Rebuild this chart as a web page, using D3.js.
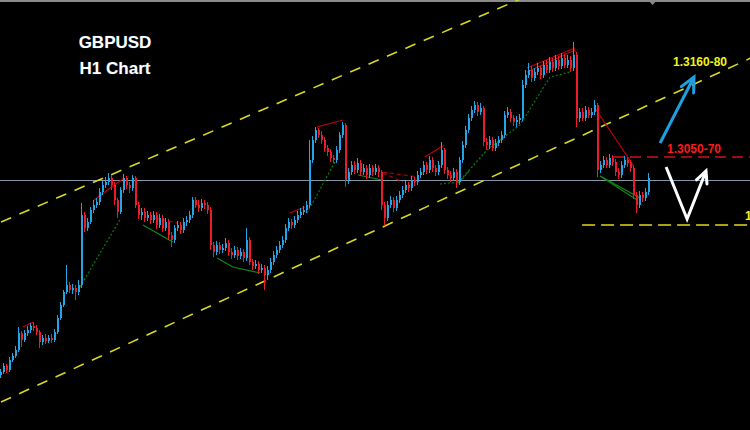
<!DOCTYPE html>
<html>
<head>
<meta charset="utf-8">
<script src="https://cdn.jsdelivr.net/npm/d3@7"></script>
<style>
  html, body { margin: 0; padding: 0; background: #000; }
  svg { display: block; }
</style>
</head>
<body>
<svg id="chart"></svg>
<script>
//DATA
//H1 candles, one per bar index. Open of each bar is the close of the bar before it.
var firstOpen = 1.2855;

var closes = [
  1.2858, 1.2864, 1.2860, 1.2870, 1.2874, 1.2880, 1.2897, 1.2890, 1.2897, 1.2900,
  1.2904, 1.2902, 1.2898, 1.2888, 1.2892, 1.2889, 1.2892, 1.2890, 1.2898, 1.2912,
  1.2925, 1.2938, 1.2945, 1.2940, 1.2942, 1.2938, 1.2945, 1.3015, 1.3002, 1.3008,
  1.3020, 1.3025, 1.3028, 1.3038, 1.3045, 1.3048, 1.3052, 1.3045, 1.3030, 1.3018,
  1.3040, 1.3052, 1.3045, 1.3042, 1.3052, 1.3025, 1.3015, 1.3018, 1.3012, 1.3015,
  1.3010, 1.3015, 1.3005, 1.3012, 1.3002, 1.3008, 1.2995, 1.2990, 1.3002, 1.3005,
  1.3000, 1.3008, 1.3010, 1.3015, 1.3030, 1.3025, 1.3022, 1.3027, 1.3025, 1.3020,
  1.2985, 1.2978, 1.2985, 1.2980, 1.2982, 1.2987, 1.2978, 1.2975, 1.2980, 1.2974,
  1.2978, 1.2972, 1.2990, 1.2968, 1.2964, 1.2966, 1.2960, 1.2962, 1.2955, 1.2960,
  1.2968, 1.2975, 1.2980, 1.2985, 1.2990, 1.3002, 1.3008, 1.3005, 1.3010, 1.3015,
  1.3018, 1.3020, 1.3025, 1.3070, 1.3090, 1.3100, 1.3095, 1.3090, 1.3082, 1.3078,
  1.3072, 1.3070, 1.3080, 1.3095, 1.3105, 1.3050, 1.3058, 1.3065, 1.3060, 1.3067,
  1.3058, 1.3062, 1.3055, 1.3062, 1.3058, 1.3062, 1.3058, 1.3025, 1.3012, 1.3025,
  1.3030, 1.3022, 1.3030, 1.3035, 1.3040, 1.3045, 1.3042, 1.3050, 1.3048, 1.3055,
  1.3058, 1.3065, 1.3060, 1.3070, 1.3062, 1.3058, 1.3065, 1.3080, 1.3060, 1.3055,
  1.3052, 1.3058, 1.3048, 1.3070, 1.3085, 1.3100, 1.3112, 1.3120, 1.3125, 1.3118,
  1.3122, 1.3088, 1.3085, 1.3090, 1.3082, 1.3087, 1.3090, 1.3095, 1.3115, 1.3118,
  1.3112, 1.3108, 1.3110, 1.3112, 1.3145, 1.3155, 1.3160, 1.3152, 1.3158, 1.3162,
  1.3155, 1.3165, 1.3160, 1.3168, 1.3162, 1.3170, 1.3164, 1.3172, 1.3165, 1.3170,
  1.3162, 1.3175, 1.3112, 1.3118, 1.3112, 1.3120, 1.3115, 1.3118, 1.3125, 1.3060,
  1.3065, 1.3070, 1.3065, 1.3072, 1.3068, 1.3058, 1.3055, 1.3065, 1.3070, 1.3067,
  1.3062, 1.3035, 1.3025, 1.3035, 1.3032, 1.3038, 1.3052
];

var highs = [
  1.2861, 1.2867, 1.2866, 1.2873, 1.2877, 1.2884, 1.2903, 1.2899, 1.2900, 1.2904,
  1.2907, 1.2908, 1.2905, 1.2900, 1.2895, 1.2896, 1.2895, 1.2896, 1.2901, 1.2915,
  1.2928, 1.2940, 1.2965, 1.2948, 1.2946, 1.2945, 1.2950, 1.3027, 1.3018, 1.3012,
  1.3023, 1.3030, 1.3032, 1.3042, 1.3049, 1.3053, 1.3057, 1.3055, 1.3048, 1.3032,
  1.3043, 1.3056, 1.3054, 1.3048, 1.3055, 1.3054, 1.3028, 1.3022, 1.3022, 1.3019,
  1.3018, 1.3019, 1.3018, 1.3016, 1.3015, 1.3012, 1.3011, 1.2998, 1.3005, 1.3009,
  1.3008, 1.3012, 1.3014, 1.3019, 1.3033, 1.3033, 1.3030, 1.3031, 1.3030, 1.3028,
  1.3023, 1.2988, 1.2989, 1.2988, 1.2986, 1.2992, 1.2990, 1.2982, 1.2984, 1.2983,
  1.2982, 1.2981, 1.3002, 1.2993, 1.2971, 1.2970, 1.2969, 1.2966, 1.2965, 1.2964,
  1.2972, 1.2979, 1.2984, 1.2989, 1.2994, 1.3006, 1.3012, 1.3011, 1.3014, 1.3019,
  1.3022, 1.3024, 1.3029, 1.3090, 1.3094, 1.3103, 1.3102, 1.3099, 1.3093, 1.3085,
  1.3081, 1.3075, 1.3084, 1.3098, 1.3108, 1.3107, 1.3062, 1.3069, 1.3069, 1.3072,
  1.3070, 1.3066, 1.3065, 1.3066, 1.3065, 1.3066, 1.3065, 1.3060, 1.3028, 1.3029,
  1.3034, 1.3033, 1.3034, 1.3039, 1.3044, 1.3049, 1.3048, 1.3054, 1.3053, 1.3059,
  1.3062, 1.3069, 1.3068, 1.3074, 1.3073, 1.3065, 1.3069, 1.3088, 1.3082, 1.3063,
  1.3059, 1.3062, 1.3061, 1.3073, 1.3089, 1.3104, 1.3116, 1.3124, 1.3129, 1.3128,
  1.3127, 1.3124, 1.3092, 1.3094, 1.3093, 1.3091, 1.3094, 1.3099, 1.3119, 1.3123,
  1.3121, 1.3115, 1.3114, 1.3116, 1.3150, 1.3160, 1.3167, 1.3164, 1.3162, 1.3167,
  1.3165, 1.3169, 1.3170, 1.3173, 1.3172, 1.3175, 1.3174, 1.3177, 1.3176, 1.3175,
  1.3174, 1.3188, 1.3178, 1.3122, 1.3122, 1.3124, 1.3123, 1.3122, 1.3130, 1.3127,
  1.3069, 1.3074, 1.3073, 1.3076, 1.3075, 1.3071, 1.3062, 1.3069, 1.3074, 1.3073,
  1.3070, 1.3065, 1.3038, 1.3039, 1.3038, 1.3042, 1.3057
];

var lows = [
  1.2852, 1.2856, 1.2857, 1.2858, 1.2868, 1.2872, 1.2878, 1.2883, 1.2888, 1.2894,
  1.2897, 1.2899, 1.2895, 1.2882, 1.2885, 1.2886, 1.2887, 1.2887, 1.2888, 1.2896,
  1.2910, 1.2923, 1.2936, 1.2937, 1.2936, 1.2930, 1.2935, 1.2942, 1.2998, 1.2999,
  1.3006, 1.3017, 1.3022, 1.3025, 1.3035, 1.3042, 1.3045, 1.3040, 1.3025, 1.3012,
  1.3016, 1.3037, 1.3041, 1.3037, 1.3039, 1.3022, 1.3011, 1.3010, 1.3008, 1.3009,
  1.3006, 1.3007, 1.3001, 1.3002, 1.2998, 1.2999, 1.2990, 1.2983, 1.2987, 1.2999,
  1.2996, 1.2997, 1.3004, 1.3007, 1.3012, 1.3022, 1.3018, 1.3019, 1.3021, 1.3016,
  1.2980, 1.2973, 1.2975, 1.2976, 1.2977, 1.2979, 1.2974, 1.2971, 1.2972, 1.2970,
  1.2971, 1.2968, 1.2969, 1.2965, 1.2960, 1.2961, 1.2956, 1.2957, 1.2940, 1.2950,
  1.2957, 1.2965, 1.2972, 1.2977, 1.2982, 1.2987, 1.2999, 1.3001, 1.3002, 1.3007,
  1.3012, 1.3015, 1.3017, 1.3022, 1.3067, 1.3087, 1.3092, 1.3086, 1.3078, 1.3074,
  1.3068, 1.3067, 1.3067, 1.3077, 1.3092, 1.3043, 1.3046, 1.3055, 1.3056, 1.3057,
  1.3054, 1.3055, 1.3051, 1.3052, 1.3054, 1.3055, 1.3053, 1.3020, 1.3004, 1.3009,
  1.3022, 1.3018, 1.3019, 1.3027, 1.3032, 1.3037, 1.3038, 1.3039, 1.3044, 1.3045,
  1.3052, 1.3055, 1.3056, 1.3057, 1.3058, 1.3054, 1.3055, 1.3062, 1.3056, 1.3051,
  1.3048, 1.3049, 1.3042, 1.3045, 1.3067, 1.3082, 1.3097, 1.3109, 1.3117, 1.3114,
  1.3115, 1.3084, 1.3080, 1.3081, 1.3079, 1.3079, 1.3084, 1.3087, 1.3092, 1.3112,
  1.3108, 1.3104, 1.3103, 1.3106, 1.3109, 1.3142, 1.3152, 1.3148, 1.3149, 1.3155,
  1.3151, 1.3152, 1.3157, 1.3157, 1.3158, 1.3159, 1.3160, 1.3161, 1.3162, 1.3162,
  1.3158, 1.3159, 1.3103, 1.3108, 1.3109, 1.3109, 1.3112, 1.3112, 1.3115, 1.3053,
  1.3057, 1.3062, 1.3062, 1.3062, 1.3064, 1.3054, 1.3051, 1.3052, 1.3062, 1.3063,
  1.3058, 1.3031, 1.3017, 1.3022, 1.3028, 1.3029, 1.3035
];

//TREND CHANNEL AND LEVELS  [bar index, price]
var channelUpper = [[0, 1.3008], [250, 1.3330]];
var channelLower = [[0, 1.2828], [250, 1.3172]];
var currentPrice = 1.3050;
var resistanceLevel = 1.3073;
var resistanceStart = 204;
var supportLevel = 1.3005;
var supportStart = 193.7;

//INDICATOR LINES (swing highs in red, swing lows in green)
var redSolid = [
  [[7.3, 1.2903], [10.7, 1.2908]],
  [[31, 1.3030], [41, 1.3052]],
  [[96.3, 1.3017], [101.3, 1.3023]],
  [[105.3, 1.3103], [114, 1.3110]],
  [[141.3, 1.3073], [147.7, 1.3085]],
  [[175.3, 1.3162], [191.3, 1.3182]],
  [[175.3, 1.3158], [186.3, 1.3173], [191.3, 1.3180]],
  [[198, 1.3122], [210.7, 1.3065]]
];
var redDashed = [
  [[51.3, 1.3012], [58.7, 1.3007]],
  [[127.3, 1.3058], [139, 1.3053]],
  [[127.3, 1.3057], [134, 1.3048]]
];
var greenSolid = [
  [[47.3, 1.3005], [57.3, 1.2988]],
  [[72, 1.2972], [77.3, 1.2963], [86.3, 1.2957]],
  [[119, 1.3055], [127, 1.3050]],
  [[199.7, 1.3054], [213, 1.3032]],
  [[199.7, 1.3054], [212, 1.3030]]
];
var greenDotted = [
  [[26.3, 1.2943], [40, 1.3012]],
  [[102, 1.3017], [111.3, 1.3068]],
  [[146.3, 1.3046], [153, 1.3048], [156.3, 1.3060]],
  [[152.3, 1.3047], [162, 1.3080], [173, 1.3105], [183, 1.3153], [189.7, 1.3158]]
];

//FORECAST ARROWS
var blueArrow = [[219.7, 1.3087], [231, 1.3153]];
var whiteArrow = [[221.7, 1.3063], [228.7, 1.3011], [235, 1.3059]];

//TEXTS
var titleLines = ["GBPUSD", "H1 Chart"];
var targetLabel = "1.3160-80";
var zoneLabel = "1.3050-70";
var supportLabel = "1.3000";

//BEGIN VISUALIZATION
var width = 750;
var height = 430;

var svg = d3.select("#chart")
    .attr("width", width)
    .attr("height", height)
    .style("background", "#000");

var x = d3.scaleLinear().domain([0, 250]).range([1, 751]);
var y = d3.scaleLinear().domain([1.2800, 1.3230]).range([height, 0]);

var line = d3.line()
    .x(function (d) { return x(d[0]); })
    .y(function (d) { return y(d[1]); });

//top frame line and shift marker
svg.append("line")
    .attr("x1", 0).attr("x2", width)
    .attr("y1", 1).attr("y2", 1)
    .attr("stroke", "#8a8a8a")
    .attr("stroke-width", 2);
svg.append("path")
    .attr("d", "M648,0 L657,0 L652.5,5 Z")
    .attr("fill", "#8a8a8a");

//current price line
svg.append("line")
    .attr("x1", 0).attr("x2", width)
    .attr("y1", Math.round(y(currentPrice)) + 0.5)
    .attr("y2", Math.round(y(currentPrice)) + 0.5)
    .attr("stroke", "#8796a8")
    .attr("stroke-width", 1);

//channel
[channelUpper, channelLower].forEach(function (pts) {
  svg.append("path")
      .attr("d", line(pts))
      .attr("fill", "none")
      .attr("stroke", "#d8d820")
      .attr("stroke-width", 1.6)
      .attr("stroke-dasharray", "11,9");
});

//indicator lines
function drawSet(set, color, dash, w) {
  set.forEach(function (pts) {
    svg.append("path")
        .attr("d", line(pts))
        .attr("fill", "none")
        .attr("stroke", color)
        .attr("stroke-width", w)
        .attr("stroke-dasharray", dash);
  });
}
drawSet(greenDotted, "#0d7a12", "2,2", 1.2);
drawSet(greenSolid, "#0f8a14", null, 1.2);
drawSet(redDashed, "#b3000a", "4,3", 1.2);
drawSet(redSolid, "#c0000a", null, 1.2);

//CANDLES
var candles = closes.map(function (c, i) {
  return {
    i: i,
    open: i === 0 ? firstOpen : closes[i - 1],
    close: c,
    high: highs[i],
    low: lows[i]
  };
});

function candleColor(d) {
  return d.close >= d.open ? "#22a6e6" : "#ee1c2a";
}

var cg = svg.append("g").attr("class", "candles");
var node = cg.selectAll("g")
    .data(candles)
    .enter()
    .append("g");

node.append("line")
    .attr("x1", function (d) { return Math.round(x(d.i)) - 0.5; })
    .attr("x2", function (d) { return Math.round(x(d.i)) - 0.5; })
    .attr("y1", function (d) { return y(d.high); })
    .attr("y2", function (d) { return y(d.low); })
    .attr("stroke", candleColor)
    .attr("stroke-width", 1);

node.append("rect")
    .attr("x", function (d) { return Math.round(x(d.i)) - 1; })
    .attr("width", 2)
    .attr("y", function (d) { return y(Math.max(d.open, d.close)); })
    .attr("height", function (d) { return Math.max(1, Math.abs(y(d.open) - y(d.close))); })
    .attr("fill", candleColor);

//horizontal levels on the right
svg.append("line")
    .attr("x1", x(resistanceStart)).attr("x2", width)
    .attr("y1", y(resistanceLevel)).attr("y2", y(resistanceLevel))
    .attr("stroke", "#d0101a")
    .attr("stroke-width", 1.3)
    .attr("stroke-dasharray", "11,6");

svg.append("line")
    .attr("x1", x(supportStart)).attr("x2", width)
    .attr("y1", y(supportLevel)).attr("y2", y(supportLevel))
    .attr("stroke", "#e0d820")
    .attr("stroke-width", 1.6)
    .attr("stroke-dasharray", "13,6");

//ARROWS
function drawArrow(pts, color, w, headLen) {
  svg.append("path")
      .attr("d", line(pts))
      .attr("fill", "none")
      .attr("stroke", color)
      .attr("stroke-width", w)
      .attr("stroke-linejoin", "miter");
  var a = pts[pts.length - 2], b = pts[pts.length - 1];
  var ax = x(a[0]), ay = y(a[1]), bx = x(b[0]), by = y(b[1]);
  var ang = Math.atan2(by - ay, bx - ax) + Math.PI;
  var spread = 0.45;
  var p1 = [bx + headLen * Math.cos(ang - spread), by + headLen * Math.sin(ang - spread)];
  var p2 = [bx + headLen * Math.cos(ang + spread), by + headLen * Math.sin(ang + spread)];
  svg.append("path")
      .attr("d", "M" + p1 + "L" + bx + "," + by + "L" + p2)
      .attr("fill", "none")
      .attr("stroke", color)
      .attr("stroke-width", w)
      .attr("stroke-linecap", "round");
}
drawArrow(blueArrow, "#1e9fe0", 3, 16);
drawArrow(whiteArrow, "#ffffff", 3, 13);

//LABELS
svg.selectAll(".title")
    .data(titleLines)
    .enter()
    .append("text")
    .attr("class", "title")
    .attr("x", 115)
    .attr("y", function (d, i) { return 48 + i * 26; })
    .attr("text-anchor", "middle")
    .style("font-family", "'Liberation Sans', Arial, sans-serif")
    .style("font-weight", "bold")
    .style("font-size", "17px")
    .attr("fill", "#ffffff")
    .attr("stroke", "#1a3b5a")
    .attr("stroke-width", 0.6)
    .attr("paint-order", "stroke")
    .text(function (d) { return d; });

function label(txt, lx, ly, color) {
  svg.append("text")
      .attr("x", lx)
      .attr("y", ly)
      .style("font-family", "'Liberation Sans', Arial, sans-serif")
      .style("font-weight", "bold")
      .style("font-size", "12px")
      .attr("fill", color)
      .text(txt);
}
label(targetLabel, 673, 66, "#f2f21a");
label(zoneLabel, 667, 153, "#ff1a1a");
label(supportLabel, 745, 220, "#f2f21a");
</script>
</body>
</html>
